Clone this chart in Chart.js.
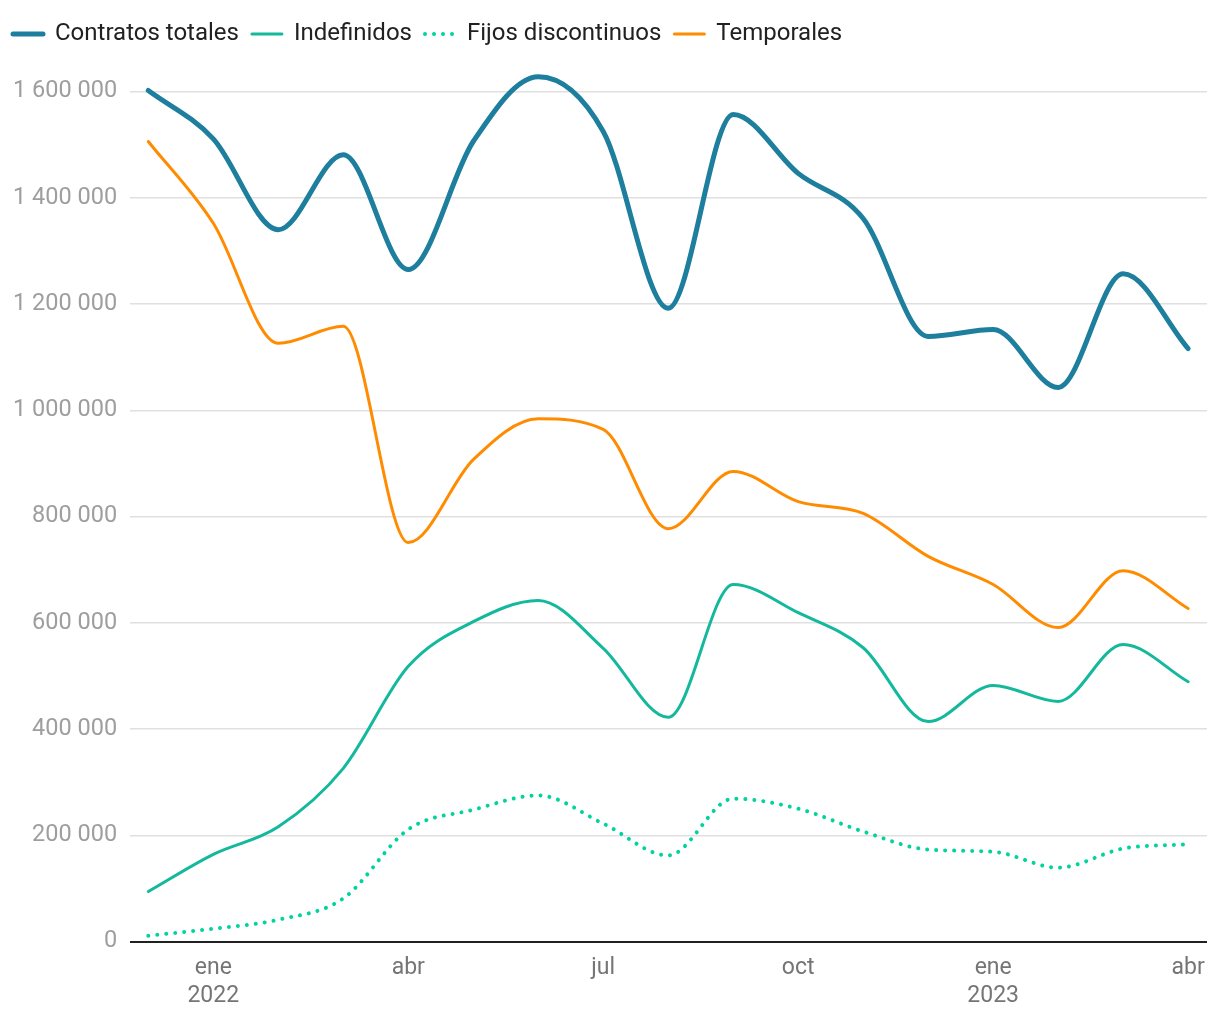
<!DOCTYPE html>
<html>
<head>
<meta charset="utf-8">
<script src="https://cdn.jsdelivr.net/npm/chart.js@4"></script>
<style>
  html, body { margin: 0; padding: 0; background: #ffffff; }
  #wrap { width: 1220px; height: 1020px; }
</style>
</head>
<body>
<div id="wrap"><canvas id="myChart"></canvas></div>
<script>
// Monthly index: 0 = dic 2021 ... 16 = abr 2023
var months = ['dic', 'ene', 'feb', 'mar', 'abr', 'may', 'jun', 'jul', 'ago', 'sep', 'oct', 'nov',
              'dic', 'ene', 'feb', 'mar', 'abr'];
var years = ['2021', '2022', '2022', '2022', '2022', '2022', '2022', '2022', '2022', '2022', '2022', '2022',
             '2022', '2023', '2023', '2023', '2023'];
var tickMonths = [1, 4, 7, 10, 13, 16];

var contratosTotales = [1602000, 1511000, 1340000, 1481000, 1265000, 1506000, 1628000, 1525000, 1192000,
                        1557000, 1446000, 1361000, 1139000, 1152000, 1043000, 1257000, 1116000];
var indefinidos = [94000, 164000, 216000, 326000, 518000, 602000, 642000, 552000, 422000,
                   672000, 619000, 553000, 414000, 482000, 452000, 559000, 489000];
var fijosDiscontinuos = [11000, 24000, 41000, 81000, 211000, 248000, 275000, 222000, 162000,
                         269000, 250000, 207000, 173000, 169000, 139000, 175000, 183000];
var temporales = [1506000, 1352000, 1126000, 1158000, 751000, 907000, 984000, 964000, 777000,
                  885000, 828000, 806000, 725000, 672000, 591000, 698000, 627000];

function toPoints(values) {
  return values.map(function(v, i) { return { x: i, y: v }; });
}

function formatThousands(v) {
  return String(v).replace(/\B(?=(\d{3})+(?!\d))/g, ' ');
}

Chart.defaults.font.family = 'Roboto';

// Leave some room between the legend and the plot
var legendMargin = {
  id: 'legendMargin',
  beforeInit: function(chart) {
    var fit = chart.legend.fit;
    chart.legend.fit = function() {
      fit.bind(chart.legend)();
      this.height += 9;
    };
  }
};

var chart = new Chart(document.getElementById('myChart'), {
  type: 'line',
  data: {
    datasets: [
      { label: 'Contratos totales', data: toPoints(contratosTotales), borderColor: '#1d7e9d', borderWidth: 5 },
      { label: 'Indefinidos', data: toPoints(indefinidos), borderColor: '#14b89c', borderWidth: 3 },
      { label: 'Fijos discontinuos', data: toPoints(fijosDiscontinuos), borderColor: '#00d39e', borderWidth: 4,
        borderDash: [0.01, 9], borderCapStyle: 'round' },
      { label: 'Temporales', data: toPoints(temporales), borderColor: '#ff8c00', borderWidth: 3 }
    ]
  },
  plugins: [legendMargin],
  options: {
    animation: false,
    responsive: true,
    maintainAspectRatio: false,
    events: [],
    layout: {
      padding: { top: 9, left: 0, right: 13, bottom: 0 }
    },
    elements: {
      point: { radius: 0 },
      line: { cubicInterpolationMode: 'monotone', fill: false, borderCapStyle: 'round', borderJoinStyle: 'round' }
    },
    scales: {
      x: {
        type: 'linear',
        min: -0.28,
        max: 16.29,
        afterBuildTicks: function(axis) {
          axis.ticks = tickMonths.map(function(v) { return { value: v }; });
        },
        afterFit: function(axis) {
          axis.height -= 3;
        },
        ticks: {
          autoSkip: false,
          maxRotation: 0,
          padding: 12,
          color: '#757575',
          font: { size: 23, lineHeight: 1.25 },
          callback: function(value) {
            if (months[value] === 'ene') {
              return [months[value], years[value]];
            }
            return months[value];
          }
        },
        grid: { display: false, drawTicks: false },
        border: { display: false }
      },
      y: {
        min: 0,
        max: 1650000,
        afterBuildTicks: function(axis) {
          var t = [];
          for (var v = 0; v <= 1600000; v += 200000) {
            t.push({ value: v });
          }
          axis.ticks = t;
        },
        ticks: {
          padding: 13,
          color: '#9e9e9e',
          font: { size: 23.5 },
          callback: function(value) { return formatThousands(value); }
        },
        grid: {
          drawTicks: false,
          color: function(ctx) { return ctx.tick && ctx.tick.value === 0 ? '#212121' : '#e0e0e0'; },
          lineWidth: function(ctx) { return ctx.tick && ctx.tick.value === 0 ? 2 : 1.5; }
        },
        border: { display: false }
      }
    },
    plugins: {
      legend: {
        display: true,
        position: 'top',
        align: 'start',
        labels: {
          usePointStyle: true,
          pointStyle: 'line',
          pointStyleWidth: 30,
          color: '#212121',
          font: { size: 24 },
          padding: 13,
          generateLabels: function(chart) {
            var items = Chart.defaults.plugins.legend.labels.generateLabels(chart);
            items.forEach(function(item) {
              var ds = chart.data.datasets[item.datasetIndex];
              item.lineDash = ds.borderDash || [];
              item.lineCap = 'round';
              item.lineWidth = ds.borderWidth;
              item.strokeStyle = ds.borderColor;
            });
            return items;
          }
        }
      },
      tooltip: { enabled: false }
    }
  }
});
</script>
</body>
</html>
